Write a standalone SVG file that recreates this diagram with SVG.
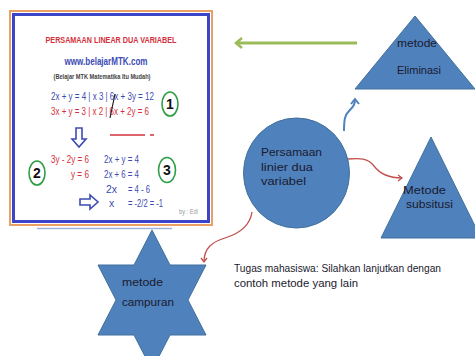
<svg xmlns="http://www.w3.org/2000/svg" width="475" height="356" viewBox="0 0 475 356">
<defs>
<style>
.shape{fill:#4f81bd;stroke:#41719c;stroke-width:1}
.lbl{font-family:"Liberation Sans",Arial,sans-serif;font-size:10.5px;fill:#1a1a2e}
.eq{font-family:"Liberation Sans",Arial,sans-serif;font-size:10.5px}
.red{fill:#d3303c}
.blue{fill:#3b4bb3}
.gc{fill:none;stroke:#2e9e44;stroke-width:1.6}
.num{font-family:"Liberation Sans",Arial,sans-serif;font-weight:bold;font-size:14px;fill:#111;text-anchor:middle}
.outarrow{fill:#fff;stroke:#3b4bb3;stroke-width:1.6}
</style>
<marker id="ahG" markerUnits="userSpaceOnUse" markerWidth="12" markerHeight="12" refX="7" refY="6" orient="auto">
<path d="M1,1 L7,6 L1,11" fill="none" stroke="#9bbb59" stroke-width="2.5"/>
</marker>
<marker id="ahB" markerUnits="userSpaceOnUse" markerWidth="10" markerHeight="10" refX="8" refY="5" orient="auto">
<path d="M3,1 L8,5 L3,9" fill="none" stroke="#4f81bd" stroke-width="2"/>
</marker>
<marker id="ahR" markerUnits="userSpaceOnUse" markerWidth="8" markerHeight="8" refX="6" refY="4" orient="auto">
<path d="M2,1 L6,4 L2,7" fill="none" stroke="#c0504d" stroke-width="1.3"/>
</marker>
</defs>
<rect width="475" height="356" fill="#fff"/>

<g id="node-picture">
<rect x="10" y="11" width="202" height="214" fill="#fff" stroke="#e8a064" stroke-width="2"/>
<rect x="13.5" y="14.5" width="195" height="207" fill="#fff" stroke="#3c44c8" stroke-width="3"/>
<line x1="37" y1="228.5" x2="172" y2="228.5" stroke="#9fb3dc" stroke-width="1.5"/>
<text transform="translate(111,43) scale(0.76,1)" text-anchor="middle" font-family="'Liberation Sans',Arial,sans-serif" font-weight="bold" font-size="9.5" fill="#d3303c">PERSAMAAN LINEAR DUA VARIABEL</text>
<text x="106" y="65" text-anchor="middle" font-family="'Liberation Sans',Arial,sans-serif" font-weight="bold" font-size="11" fill="#3b4bb3" textLength="83" lengthAdjust="spacingAndGlyphs">www.belajarMTK.com</text>
<text x="102" y="79" text-anchor="middle" font-family="'Liberation Sans',Arial,sans-serif" font-weight="bold" font-size="6.5" fill="#444" textLength="97" lengthAdjust="spacingAndGlyphs">(Belajar MTK Matematika Itu Mudah)</text>
<text transform="translate(51,100) scale(0.763,1)" class="eq blue">2x + y = 4 | x 3 | 6x + 3y = 12</text>
<text transform="translate(51,115) scale(0.76,1)" class="eq red">3x + y = 3 | x 2 | 6x + 2y = 6</text>
<line x1="115" y1="94" x2="110" y2="118" stroke="#222" stroke-width="1.2"/>
<ellipse class="gc" cx="170" cy="104" rx="8" ry="12"/>
<text x="170" y="109" class="num">1</text>
<path class="outarrow" d="M76,128 L82,128 L82,139 L86,139 L79,147 L72,139 L76,139 Z"/>
<line x1="110" y1="135" x2="145" y2="135" stroke="#d3303c" stroke-width="1.5"/>
<line x1="150" y1="135" x2="154" y2="135" stroke="#d3303c" stroke-width="1.5"/>
<ellipse class="gc" cx="37" cy="173" rx="8" ry="12"/>
<text x="37" y="178" class="num">2</text>
<text x="51" y="163" class="eq red" textLength="38" lengthAdjust="spacingAndGlyphs">3y - 2y = 6</text>
<text x="71" y="178" class="eq red" textLength="18" lengthAdjust="spacingAndGlyphs">y = 6</text>
<text x="104" y="163" class="eq blue" textLength="35" lengthAdjust="spacingAndGlyphs">2x + y = 4</text>
<text x="104" y="178" class="eq blue" textLength="35" lengthAdjust="spacingAndGlyphs">2x + 6 = 4</text>
<text x="106" y="193" class="eq blue" textLength="11" lengthAdjust="spacingAndGlyphs">2x</text>
<text x="128" y="193" class="eq blue" textLength="22" lengthAdjust="spacingAndGlyphs">= 4 - 6</text>
<text x="109" y="207" class="eq blue">x</text>
<text x="128" y="207" class="eq blue" textLength="35" lengthAdjust="spacingAndGlyphs">= -2/2 = -1</text>
<ellipse class="gc" cx="167" cy="170" rx="8.5" ry="12.5"/>
<text x="167" y="175" class="num">3</text>
<path class="outarrow" d="M80,199 L90,199 L90,195 L98,202 L90,209 L90,205 L80,205 Z"/>
<text x="179" y="214" font-family="'Liberation Sans',Arial,sans-serif" font-size="6.5" fill="#9a9a9a" textLength="19" lengthAdjust="spacingAndGlyphs">by : Edi</text>
</g>

<g id="connectors">
<line x1="357" y1="43" x2="236" y2="43" stroke="#9bbb59" stroke-width="3" marker-end="url(#ahG)"/>
<path d="M344,131 C344,119 345,115 349,111 C354,106 355,104 355,99" fill="none" stroke="#4f81bd" stroke-width="2" marker-end="url(#ahB)"/>
<path d="M348,159 C360,158 368,158 374,166 C380,174 388,178 402,178" fill="none" stroke="#c0504d" stroke-width="1.3" marker-end="url(#ahR)"/>
<path d="M252,212 C250,226 238,234 225,238 C212,242 204,248 204,262" fill="none" stroke="#c0504d" stroke-width="1.3" marker-end="url(#ahR)"/>
</g>

<g id="node-eliminasi">
<polygon class="shape" points="415,16 475,89 355,89"/>
<text x="397" y="47" class="lbl" textLength="40" lengthAdjust="spacingAndGlyphs">metode</text>
<text x="397" y="74" class="lbl" textLength="44" lengthAdjust="spacingAndGlyphs">Eliminasi</text>
</g>

<g id="node-persamaan">
<ellipse class="shape" cx="296.5" cy="173" rx="53" ry="55"/>
<text x="261" y="156" class="lbl" textLength="61" lengthAdjust="spacingAndGlyphs">Persamaan</text>
<text x="261" y="171" class="lbl" textLength="52" lengthAdjust="spacingAndGlyphs">linier dua</text>
<text x="261" y="185" class="lbl" textLength="45" lengthAdjust="spacingAndGlyphs">variabel</text>
</g>

<g id="node-subsitusi">
<polygon class="shape" points="431,137 481,238 381,238"/>
<text x="403" y="194" class="lbl" textLength="43" lengthAdjust="spacingAndGlyphs">Metode</text>
<text x="406" y="208" class="lbl" textLength="47" lengthAdjust="spacingAndGlyphs">subsitusi</text>
</g>

<g id="node-campuran">
<polygon class="shape" points="152,230 170,265 206,265 188,300 206,335 170,335 152,370 134,335 98,335 116,300 98,265 134,265"/>
<text x="122" y="286" class="lbl" textLength="41" lengthAdjust="spacingAndGlyphs">metode</text>
<text x="122" y="306" class="lbl" textLength="52" lengthAdjust="spacingAndGlyphs">campuran</text>
</g>

<g id="note">
<text x="234" y="272" class="lbl" textLength="207" lengthAdjust="spacingAndGlyphs">Tugas mahasiswa: Silahkan lanjutkan dengan</text>
<text x="234" y="287" class="lbl" textLength="124" lengthAdjust="spacingAndGlyphs">contoh metode yang lain</text>
</g>
</svg>
